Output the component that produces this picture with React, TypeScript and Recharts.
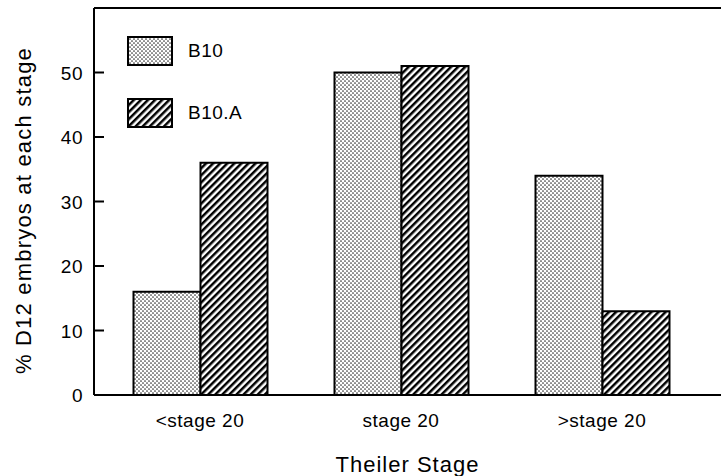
import React from 'react';
import { BarChart, Bar, XAxis, YAxis, Legend, ReferenceLine } from 'recharts';

const categories = ['<stage 20', 'stage 20', '>stage 20'];
const b10Values = [16, 50, 34];
const b10aValues = [36, 51, 13];
const yTicks = [0, 10, 20, 30, 40, 50];
const seriesNames = { b10: 'B10', b10a: 'B10.A' };
const yAxisTitle = '% D12 embryos at each stage';
const xAxisTitle = 'Theiler Stage';

const data = categories.map((stage, i) => ({ stage, b10: b10Values[i], b10a: b10aValues[i] }));

const FONT = '"Liberation Sans", Arial, Helvetica, sans-serif';
const fillFor: Record<string, string> = { b10: 'url(#dotsPat)', b10a: 'url(#hatchPat)' };

const YTick = (props: any) => {
  const { x, y, payload } = props;
  return (
    <g>
      <line x1={x} x2={x + 10} y1={y} y2={y} stroke="#000" strokeWidth={2} />
      <text x={x - 11} y={y} dy={7} textAnchor="end" fontFamily={FONT} fontSize={19} letterSpacing={0.5} fill="#000">
        {payload.value}
      </text>
    </g>
  );
};

const XTick = (props: any) => {
  const { x, y, payload } = props;
  return (
    <text x={x} y={y} dy={32} textAnchor="middle" fontFamily={FONT} fontSize={19} letterSpacing={0.5} fill="#000">
      {payload.value}
    </text>
  );
};

const YLabel = (props: any) => {
  const vb = props.viewBox || { x: 0, y: 8, width: 94, height: 387 };
  const cx = 23;
  const cy = vb.y + vb.height / 2 + 9;
  return (
    <text x={cx} y={cy} transform={`rotate(-90 ${cx} ${cy})`} textAnchor="middle" dominantBaseline="central"
      fontFamily={FONT} fontSize={22} letterSpacing={1.2} fill="#000">
      {yAxisTitle}
    </text>
  );
};

const XLabel = (props: any) => {
  const vb = props.viewBox || { x: 94, y: 395, width: 627, height: 81 };
  const cx = vb.x + vb.width / 2;
  return (
    <text x={cx} y={472} textAnchor="middle" fontFamily={FONT} fontSize={22} letterSpacing={1} fill="#000">
      {xAxisTitle}
    </text>
  );
};

const LegendContent = (props: any) => {
  const payload = props.payload || [];
  return (
    <div style={{ display: 'flex', flexDirection: 'column' }}>
      {payload.map((entry: any, i: number) => (
        <div key={i} style={{ display: 'flex', alignItems: 'center', height: 30, marginBottom: i === 0 ? 32 : 0 }}>
          <svg width={46} height={30} style={{ display: 'block' }}>
            <rect x={1} y={1} width={44} height={28} fill={fillFor[entry.dataKey]} stroke="#000" strokeWidth={2} />
          </svg>
          <span style={{ marginLeft: 15, fontFamily: FONT, fontSize: 19, letterSpacing: 0.5, color: '#000', lineHeight: '30px' }}>
            {entry.value}
          </span>
        </div>
      ))}
    </div>
  );
};

export default function App() {
  return (
    <div style={{ position: 'absolute', left: 0, top: 0, width: 721, height: 476, background: '#fff' }}>
      <svg width={0} height={0} style={{ position: 'absolute' }}>
        <defs>
          <pattern id="dotsPat" patternUnits="userSpaceOnUse" width={4} height={4}>
            <rect x={0} y={0} width={4} height={4} fill="#fff" />
            <circle cx={1} cy={1} r={0.85} fill="#333" />
            <circle cx={3} cy={3} r={0.85} fill="#333" />
          </pattern>
          <pattern id="hatchPat" patternUnits="userSpaceOnUse" width={5} height={5} patternTransform="rotate(45)">
            <rect x={0} y={0} width={5} height={5} fill="#fff" />
            <rect x={0} y={0} width={2.5} height={5} fill="#000" />
          </pattern>
        </defs>
      </svg>
      <BarChart width={721} height={476} data={data} margin={{ top: 8, right: 0, bottom: 0, left: 0 }} barGap={0} barSize={67}>
        <XAxis dataKey="stage" height={81} padding={{ left: 5.5, right: 18.5 }} axisLine={{ stroke: '#000', strokeWidth: 2 }}
          tickLine={false} tickSize={0} tickMargin={0} tick={<XTick />} interval={0} label={<XLabel />} />
        <YAxis width={94} domain={[0, 60]} ticks={yTicks} axisLine={{ stroke: '#000', strokeWidth: 2 }}
          tickLine={false} tickSize={0} tickMargin={0} tick={<YTick />} label={<YLabel />} allowDataOverflow />
        <ReferenceLine y={60} stroke="#000" strokeWidth={2} />
        <Legend layout="vertical" verticalAlign="middle" align="center" content={<LegendContent />}
          wrapperStyle={{ position: 'absolute', left: 127, top: 36, width: 'auto', height: 'auto' }} />
        <Bar dataKey="b10" name={seriesNames.b10} fill="url(#dotsPat)" stroke="#000" strokeWidth={2} isAnimationActive={false} />
        <Bar dataKey="b10a" name={seriesNames.b10a} fill="url(#hatchPat)" stroke="#000" strokeWidth={2} isAnimationActive={false} />
      </BarChart>
    </div>
  );
}
